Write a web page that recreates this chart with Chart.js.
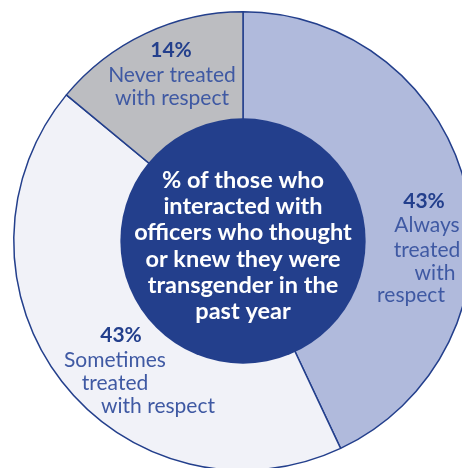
<!DOCTYPE html>
<html>
<head>
<meta charset="utf-8">
<script src="https://cdn.jsdelivr.net/npm/chart.js@4"></script>
<style>
  html, body { margin: 0; padding: 0; background: #fff; overflow: hidden; }
  #wrap { position: absolute; left: 0; top: 0; width: 462px; height: 468px; overflow: hidden; }
  canvas { display: block; }
</style>
</head>
<body>
<div id="wrap"><canvas id="myChart" width="486" height="482"></canvas></div>
<script>
// data
var categories = ['Always treated with respect', 'Sometimes treated with respect', 'Never treated with respect'];
var values = [43, 43, 14];
var percentLabels = ['43%', '43%', '14%'];
var labelLines = [
    ['Always', 'treated', 'with', 'respect'],
    ['Sometimes', 'treated', 'with respect'],
    ['Never treated', 'with respect']
];
var centerLines = ['% of those who', 'interacted with', 'officers who thought', 'or knew they were', 'transgender in the', 'past year'];

var colors = ['#b0badc', '#f1f2f8', '#bcbdc1'];
var navy = '#233f8c';
var labelColor = '#3f59a3';

// label placement relative to pie centre: [dx, dy] per line, first entry is the percent
var labelPos = [
    [[181, -33], [184, -9], [184, 16], [192, 39], [168, 61]],
    [[-122, 101], [-128, 126], [-128, 149], [-85, 172]],
    [[-72, -184], [-71, -159], [-71, -136]]
];

var centerPlugin = {
    id: 'centerPlugin',
    afterDatasetsDraw: function (chart) {
        var ctx = chart.ctx;
        var arc = chart.getDatasetMeta(0).data[0];
        var cx = arc.x, cy = arc.y;
        var innerR = arc.outerRadius * 0.535;

        ctx.save();
        ctx.beginPath();
        ctx.arc(cx, cy, innerR, 0, Math.PI * 2);
        ctx.fillStyle = navy;
        ctx.fill();

        ctx.textAlign = 'center';
        ctx.textBaseline = 'alphabetic';
        ctx.fillStyle = '#ffffff';
        ctx.font = 'bold 23.5px Lato';
        centerLines.forEach(function (line, i) {
            ctx.fillText(line, cx, cy - 53 + i * 26.2);
        });

        values.forEach(function (v, i) {
            var pos = labelPos[i];
            ctx.fillStyle = navy;
            ctx.font = 'bold 21px Lato';
            ctx.fillText(percentLabels[i], cx + pos[0][0], cy + pos[0][1]);
            ctx.fillStyle = labelColor;
            ctx.font = '21px Lato';
            labelLines[i].forEach(function (line, j) {
                ctx.fillText(line, cx + pos[j + 1][0], cy + pos[j + 1][1]);
            });
        });
        ctx.restore();
    }
};

var ctx = document.getElementById('myChart');
window.myPie = new Chart(ctx, {
    type: 'pie',
    data: {
        labels: categories,
        datasets: [{
            data: values,
            backgroundColor: colors,
            borderColor: navy,
            borderWidth: 1.5
        }]
    },
    options: {
        responsive: false,
        animation: false,
        layout: { padding: 11 },
        plugins: {
            legend: { display: false },
            tooltip: { enabled: false }
        }
    },
    plugins: [centerPlugin]
});
</script>
</body>
</html>
